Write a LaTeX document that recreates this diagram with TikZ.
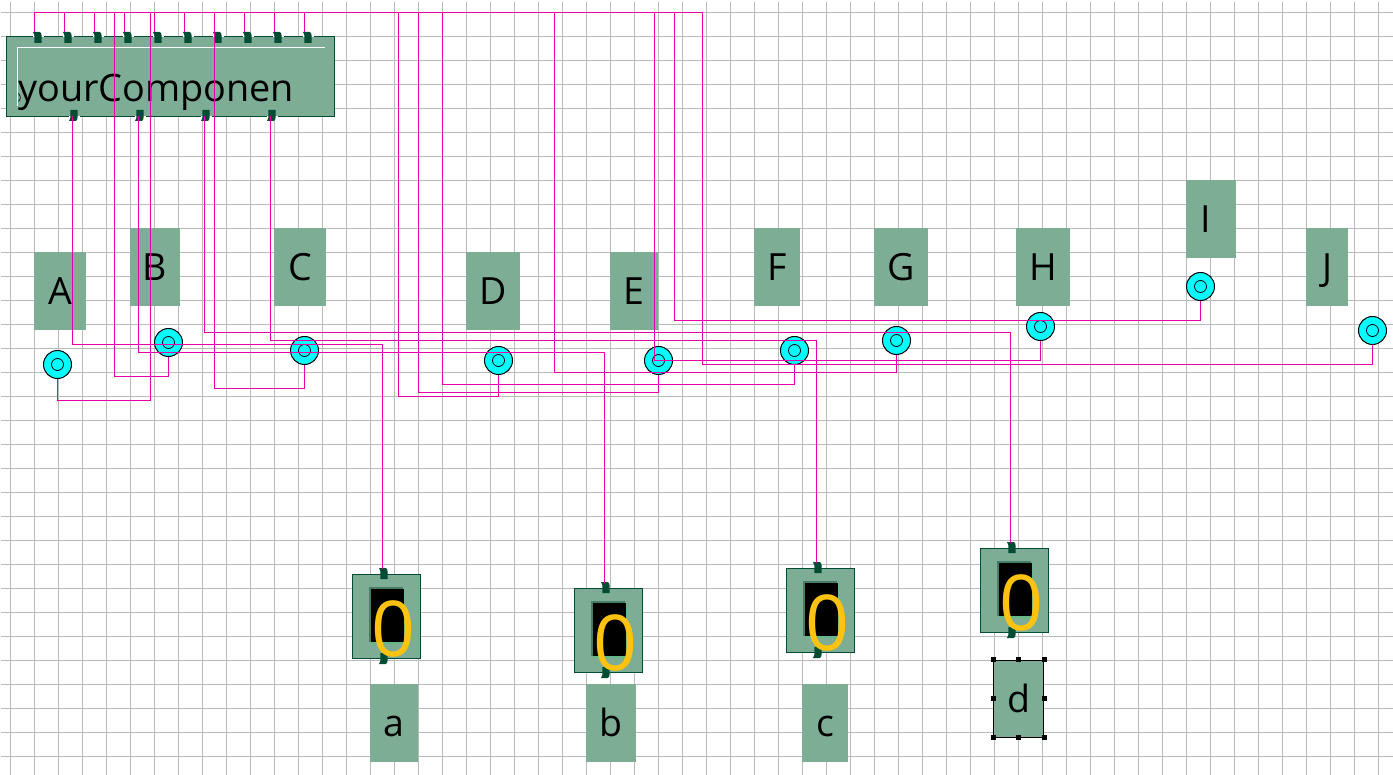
\documentclass[tikz,border=0pt]{standalone}
\usepackage{fontspec}
\setmainfont{Open Sans}
\definecolor{boxgreen}{RGB}{125,174,149}
\definecolor{pingreen}{RGB}{0,77,51}
\definecolor{shadegreen}{RGB}{70,125,100}
\definecolor{lightshade}{RGB}{100,185,135}
\definecolor{wirecol}{RGB}{230,0,170}
\definecolor{gridcol}{RGB}{186,186,186}
\definecolor{digitcol}{RGB}{255,194,14}
\definecolor{portcyan}{RGB}{0,255,255}
\tikzset{
  gridline/.style={draw=gridcol,line width=1pt},
  wire/.style={draw=wirecol,line width=1pt},
  labelbox/.style={fill=boxgreen,inner sep=0pt,text height=27pt,text depth=0pt,font=\fontsize{37.5}{40}\selectfont},
  partbox/.style={fill=boxgreen,draw=pingreen,line width=1pt},
  pinshape/.style={fill=pingreen},
  portouter/.style={circle,draw=black,fill=portcyan,line width=1pt,minimum size=28pt,inner sep=0pt},
  portinner/.style={circle,draw=black,fill=portcyan,line width=.8pt,minimum size=12pt,inner sep=0pt},
  handle/.style={fill=black,minimum size=5pt,inner sep=0pt},
}
% #1 name, #2 x, #3 y : pin whose top-left is at x,y
\newcommand\pintop[3]{%
  \coordinate (#1) at (#2,#3);
  \begin{scope}[shift={(#2,#3)}]
    \fill[pinshape] (-1.5,-.5) -- (5,-.5) .. controls (6.5,0) .. (7.2,3.5) -- (7.2,10.5) -- (-.2,10.5) -- (-.2,2.5) -- cycle;
  \end{scope}}
% pin whose lower tail is at x,y
\newcommand\pinbottom[3]{%
  \coordinate (#1) at (#2,#3);
  \begin{scope}[shift={(#2,#3)}]
    \fill[pinshape] (-1.5,.5) -- (5,.5) .. controls (6.5,0) .. (7.2,-3.5) -- (7.2,-10.5) -- (-.2,-10.5) -- (-.2,-2.5) -- cycle;
  \end{scope}}
\newcommand\lab[6]{%
  \pgfmathsetmacro\boxcx{(#2+#4)/2-.5}\pgfmathsetmacro\boxcy{(#3+#5)/2-.5}%
  \pgfmathsetmacro\boxw{#4-#2}\pgfmathsetmacro\boxh{#5-#3}%
  \node[labelbox,minimum width=\boxw pt,minimum height=\boxh pt] (#1) at (\boxcx,\boxcy) {#6};}
\newcommand\port[3]{%
  \node[portouter] (#1) at (#2,#3) {};
  \node[portinner] (#1i) at (#2,#3) {};}
% #1 name, #2 left, #3 top (pixel of outer box)
\newcommand\display[3]{%
  \begin{scope}[shift={(#2,#3)}]
    \coordinate (#1) at (30,-6);
    \path[partbox] (0,0) rectangle (68,84);
    \fill[shadegreen] (16,12) rectangle (50,67);
    \fill[lightshade] (18,14) rectangle (52,69);
    \fill[black] (18,14) rectangle (51,67);
    \pintop{#1t}{28}{-6}
    \pinbottom{#1b}{28}{89}
    \node[text=digitcol,anchor=base,inner sep=0pt,font=\fontsize{77}{80}\selectfont] (#1d) at (41,82) {0};
  \end{scope}}
\begin{document}
\begin{tikzpicture}[x=1pt,y=-1pt]
\useasboundingbox (0,0) rectangle (1393,775);
\fill[white] (0,0) rectangle (1393,775);
\begin{scope}[shift={(.5,.5)}]
% grid
\foreach \gx in {10,34,...,1390} {\draw[gridline] (\gx,2) -- (\gx,775);}
\foreach \gy in {12,36,...,772} {\draw[gridline] (0,\gy) -- (1393,\gy);}
% component
\path[partbox] (6,36) rectangle (334,116);
\draw[white,line width=1pt] (17,106) -- (17,47) -- (324,47);
\node[anchor=base west,inner sep=0pt,font=\fontsize{37.8}{40}\selectfont] (comp) at (17.5,101.5) {yourComponen};
\draw[black,line width=.7pt] (18,93) .. controls (20.5,96) and (20.5,98) .. (18,101);
\foreach \px in {34,64,...,304} {\draw[white,line width=1pt] (\px-2,36) -- (\px+9,36);}
\foreach \px in {70,136,202,268} {\draw[white,line width=1pt] (\px-2,116) -- (\px+9,116);}
\foreach \n/\px in {1/34,2/64,3/94,4/124,5/154,6/184,7/214,8/244,9/274,10/304} {\pintop{t\n}{\px}{32}}
\pinbottom{o1}{70}{120}
\pinbottom{o2}{136}{120}
\pinbottom{o3}{202}{120}
\pinbottom{o4}{268}{120}
% labels
\lab{lA}{34}{252}{86}{330}{A}
\lab{lB}{130}{228}{180}{306}{B}
\lab{lC}{274}{228}{326}{306}{C}
\lab{lD}{466}{252}{520}{330}{D}
\lab{lE}{610}{252}{658}{330}{E}
\lab{lF}{754}{228}{800}{306}{F}
\lab{lG}{874}{228}{928}{306}{G}
\lab{lH}{1016}{228}{1070}{306}{H}
\lab{lI}{1186}{180}{1236}{258}{I\hspace*{10pt}}
\lab{lJ}{1306}{228}{1348}{306}{J}
\lab{la}{370}{684}{418}{762}{a}
\lab{lb}{586}{684}{636}{762}{b}
\lab{lc}{802}{684}{848}{762}{c}
\node[labelbox,draw=black,line width=1pt,minimum width=50pt,minimum height=77pt] (ld) at (1018,698) {d};
\foreach \hn/\ha in {1/north west,2/north,3/north east,4/west,5/east,6/south west,7/south,8/south east} {\node[handle] (h\hn) at (ld.\ha) {};}
% ports
\port{cA}{57}{364}
\port{cB}{168}{342}
\port{cC}{304}{350}
\port{cD}{498}{360}
\port{cE}{658}{360}
\port{cF}{794}{350}
\port{cG}{896}{340}
\port{cH}{1040}{326}
\port{cI}{1200}{286}
\port{cJ}{1372}{330}
% displays
\display{da}{352}{574}
\display{db}{574}{588}
\display{dc}{786}{568}
\display{dd}{980}{548}
% bus
\coordinate (busend) at (702,12);
\foreach \n in {1,...,10} {\draw[wire] (t\n) -- (t\n |- busend);}
\draw[wire] (t1 |- busend) -- (busend);
% input wires
\draw[wire] (cA.south) |- (150,400) -- (150,12);
\draw[wire] (cB.south) |- (114,376) -- (114,12);
\draw[wire] (cC.south) |- (214,388) -- (214,12);
\draw[wire] (cD.south) |- (398,396) -- (398,12);
\draw[wire] (cE.south) |- (418,392) -- (418,12);
\draw[wire] (cF.south) |- (442,384) -- (442,12);
\draw[wire] (cG.south) |- (554,372) -- (554,12);
\draw[wire] (cH.south) |- (654,360) -- (654,12);
\draw[wire] (cI.south) |- (674,320) -- (674,12);
\draw[wire] (cJ.south) |- (702,364) -- (busend);
% output wires
\draw[wire] (72,116) |- (382,344) -- (da);
\draw[wire] (138,116) |- (604,352) -- (db);
\draw[wire] (204,116) |- (1010,332) -- (dd);
\draw[wire] (270,116) |- (816,340) -- (dc);
\end{scope}
\end{tikzpicture}
\end{document}
